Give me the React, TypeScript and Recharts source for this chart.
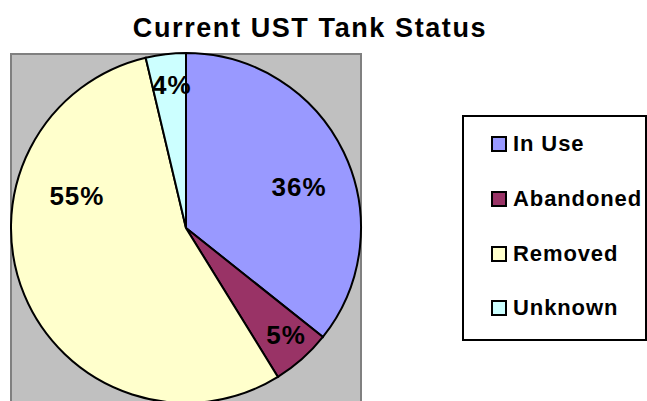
import { PieChart, Pie, Cell, Legend } from 'recharts';

const categories = ['In Use', 'Abandoned', 'Removed', 'Unknown'];
const shares = [35.7, 5.5, 55.1, 3.7];
const colors = ['#9999ff', '#993366', '#ffffcc', '#ccffff'];

// label placement tweaks (fraction of radius, clockwise shift in degrees)
const labelRadius = [0.686, 0.837, 0.65, 0.82];
const labelShift = [6, -1.5, 39, 1];

const FONT = '"Liberation Sans", Arial, sans-serif';
const RAD = Math.PI / 180;

const chartData = categories.map((name, i) => ({ name, value: shares[i] }));

function renderLabel(props: any) {
  const { cx, cy, midAngle, outerRadius, percent, index } = props;
  const angle = midAngle - labelShift[index];
  const r = outerRadius * labelRadius[index];
  const x = cx + r * Math.cos(-angle * RAD);
  const y = cy + r * Math.sin(-angle * RAD);
  return (
    <text
      x={x}
      y={y}
      textAnchor="middle"
      dominantBaseline="central"
      fill="#000"
      style={{ fontFamily: FONT, fontWeight: 'bold', fontSize: 26, letterSpacing: 1 }}
    >
      {`${Math.round(percent * 100)}%`}
    </text>
  );
}

function LegendBox() {
  return (
    <div
      style={{
        boxSizing: 'border-box',
        width: 185,
        height: 226,
        border: '2px solid #000',
        background: '#fff',
      }}
    >
      {categories.map((name, i) => (
        <div
          key={name}
          style={{
            height: 54.7,
            display: 'flex',
            alignItems: 'center',
            paddingLeft: 27,
          }}
        >
          <span
            style={{
              boxSizing: 'border-box',
              width: 16,
              height: 16,
              background: colors[i],
              border: '2px solid #000',
              marginRight: 6,
              display: 'inline-block',
            }}
          />
          <span
            style={{
              fontFamily: FONT,
              fontWeight: 'bold',
              fontSize: 22,
              color: '#000',
              letterSpacing: 0.9,
            }}
          >
            {name}
          </span>
        </div>
      ))}
    </div>
  );
}

export default function App() {
  return (
    <div style={{ position: 'fixed', left: 0, top: 0, width: 647, height: 401, background: '#fff', overflow: 'hidden' }}>
      <div
        style={{
          position: 'absolute',
          left: 0,
          width: 620,
          top: 13,
          textAlign: 'center',
          fontFamily: FONT,
          fontWeight: 'bold',
          fontSize: 27,
          letterSpacing: 1.6,
          color: '#000',
        }}
      >
        Current UST Tank Status
      </div>
      <div
        style={{
          position: 'absolute',
          left: 10,
          top: 53,
          width: 352,
          height: 360,
          boxSizing: 'border-box',
          background: '#c0c0c0',
          border: '2px solid #808080',
        }}
      />
      <div style={{ position: 'absolute', left: 0, top: 0 }}>
        <PieChart width={647} height={401} margin={{ top: 0, right: 0, bottom: 0, left: 0 }}>
          <Pie
            data={chartData}
            dataKey="value"
            nameKey="name"
            cx={186}
            cy={228}
            outerRadius={175}
            startAngle={90}
            endAngle={-270}
            stroke="#000"
            strokeWidth={2}
            label={renderLabel}
            labelLine={false}
            isAnimationActive={false}
          >
            {chartData.map((d, i) => (
              <Cell key={d.name} fill={colors[i]} />
            ))}
          </Pie>
          <Legend
            content={() => <LegendBox />}
            wrapperStyle={{ position: 'absolute', left: 462, top: 115, width: 185, height: 226 }}
          />
        </PieChart>
      </div>
    </div>
  );
}
